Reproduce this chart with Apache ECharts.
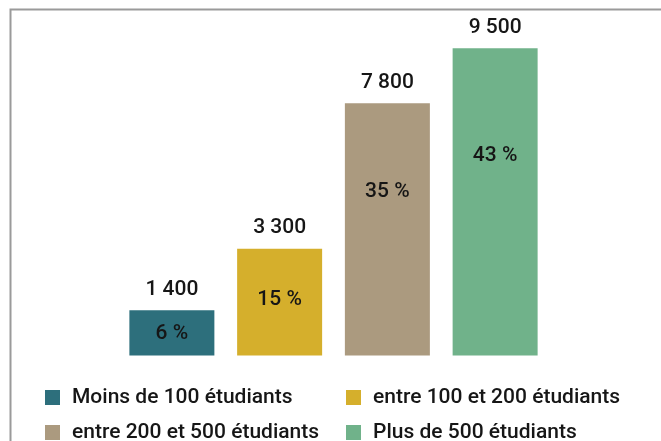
<!DOCTYPE html>
<html>
<head>
<meta charset="utf-8">
<script src="https://cdn.jsdelivr.net/npm/echarts@6/dist/echarts.min.js"></script>
<style>
  html, body { margin: 0; padding: 0; background: #fff; }
  #chart { width: 661px; height: 441px; }
</style>
</head>
<body>
<div id="chart"></div>
<script>
// données
const categories = [
    "Moins de 100 étudiants",
    "entre 100 et 200 étudiants",
    "entre 200 et 500 étudiants",
    "Plus de 500 étudiants",
];
const counts = [1400, 3300, 7800, 9500];
const shares = [6, 15, 35, 43];

// style
const colors = ["#2d6f7c", "#d5af2c", "#ab9a7f", "#70b28a"];
const pctLabelPos = ["53%", "48%", "35%", "35%"];
const font = "Roboto";
const textColor = "#161616";

const fmtThousands = (v) => String(v).replace(/\B(?=(\d{3})+(?!\d))/g, " ");

const chart = echarts.init(document.getElementById("chart"));

const series = categories.map((name, i) => ({
    name: name,
    type: "bar",
    barWidth: 85,
    barGap: "-100%",
    itemStyle: { color: colors[i] },
    label: {
        show: true,
        position: "top",
        distance: 10,
        fontFamily: font,
        fontSize: 21,
        fontWeight: 500,
        color: textColor,
        formatter: (p) => fmtThousands(p.value),
    },
    data: counts.map((v, j) => (j === i ? v : "-")),
}));

// étiquettes de pourcentage dans les barres
series.push({
    name: "pct",
    type: "bar",
    barWidth: 85,
    barGap: "-100%",
    silent: true,
    itemStyle: { color: "rgba(0,0,0,0)" },
    label: {
        show: true,
        align: "center",
        verticalAlign: "middle",
        fontFamily: font,
        fontSize: 21,
        fontWeight: 500,
        color: textColor,
        formatter: (p) => shares[p.dataIndex] + " %",
    },
    data: counts.map((v, j) => ({ value: v, label: { position: ["50%", pctLabelPos[j]] } })),
});

const legendBase = {
    orient: "vertical",
    padding: 0,
    top: 387,
    height: 120,
    itemWidth: 15,
    itemHeight: 15,
    itemGap: 14,
    icon: "rect",
    selectedMode: false,
    textStyle: {
        fontFamily: font,
        fontSize: 21,
        fontWeight: 500,
        lineHeight: 20,
        color: textColor,
        padding: [0, 0, 0, 7],
    },
};

chart.setOption({
    animation: false,
    grid: { left: 118, right: 112, top: 32, bottom: 85.5 },
    graphic: [
        {
            type: "polyline",
            shape: { points: [[10.5, 441], [10.5, 9.5], [661, 9.5]] },
            style: { stroke: "#9a9a9a", lineWidth: 2, fill: null },
            silent: true,
        },
    ],
    legend: [
        Object.assign({}, legendBase, { left: 45, data: [categories[0], categories[2]] }),
        Object.assign({}, legendBase, { left: 346, data: [categories[1], categories[3]] }),
    ],
    xAxis: {
        type: "category",
        data: categories,
        show: false,
    },
    yAxis: {
        type: "value",
        min: 0,
        max: 10000,
        show: false,
    },
    series: series,
});
</script>
</body>
</html>
